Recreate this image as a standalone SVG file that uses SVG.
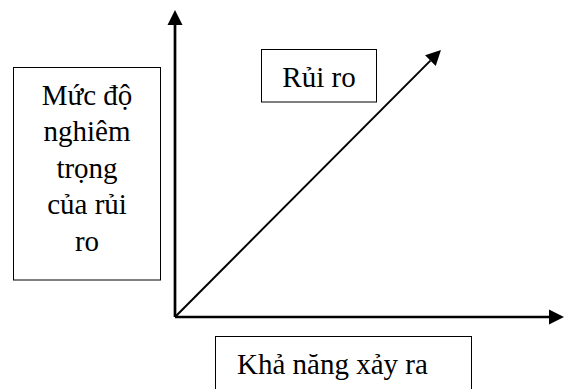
<svg xmlns="http://www.w3.org/2000/svg" width="565" height="389" viewBox="0 0 565 389">
<style>
.box{fill:#fff;stroke:#000;stroke-width:1}
.t{font-family:"Liberation Serif","Times New Roman",serif;font-size:29px;fill:#000}
.c{text-anchor:middle}
.ax{stroke:#000;stroke-width:2.7;fill:none}
.dg{stroke:#000;stroke-width:2;fill:none}
</style>
<defs>
<marker id="ah" viewBox="0 -8 15 16" refX="0" refY="0" markerWidth="15" markerHeight="16" markerUnits="userSpaceOnUse" orient="auto">
<path d="M0,-7.5 L15,0 L0,7.5 z" fill="#000"/>
</marker>
</defs>
<rect width="565" height="389" fill="#fff"/>
<g id="connectors">
<line class="ax" x1="175" y1="317" x2="175" y2="25" marker-end="url(#ah)"/>
<line class="ax" x1="175" y1="317" x2="549" y2="317" marker-end="url(#ah)"/>
<line class="dg" x1="175" y1="317" x2="430.4" y2="60.6" marker-end="url(#ah)"/>
</g>
<g id="severity">
<rect class="box" x="13.5" y="67.5" width="147" height="212.5"/>
<text class="t c" x="87" y="104.5">Mức độ</text>
<text class="t c" x="87" y="141">nghiêm</text>
<text class="t c" x="87" y="177.5">trọng</text>
<text class="t c" x="87" y="214">của rủi</text>
<text class="t c" x="87" y="250.5">ro</text>
</g>
<g id="risk">
<rect class="box" x="261.5" y="49.5" width="115" height="52.5"/>
<text class="t c" x="319" y="87.3">Rủi ro</text>
</g>
<g id="likelihood">
<rect class="box" x="215.5" y="336.5" width="256" height="60"/>
<text class="t" x="237" y="374">Khả năng xảy ra</text>
</g>
</svg>
